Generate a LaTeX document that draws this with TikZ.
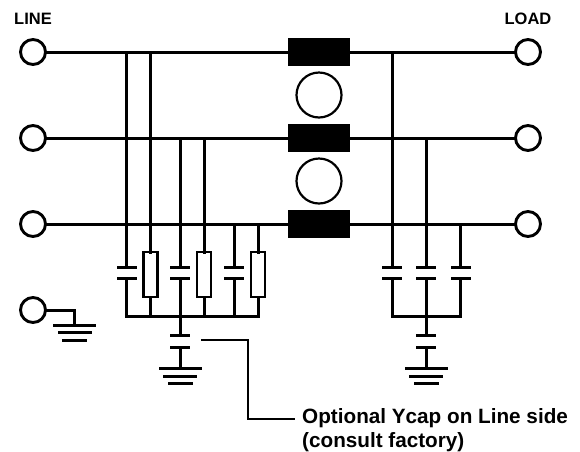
\documentclass[tikz,border=0pt]{standalone}
\usepackage{fontspec}
\setmainfont{Liberation Sans}
\usepackage{tikz}
\tikzstyle{terminal} = [circle, minimum size=25pt, inner sep=0pt, outer sep=0pt, draw=black, line width=2.9pt, fill=white]
\tikzstyle{choke} = [rectangle, minimum width=62pt, minimum height=28pt, inner sep=0pt, outer sep=0pt, fill=black]
\tikzstyle{core} = [circle, minimum size=45pt, inner sep=0pt, outer sep=0pt, draw=black, line width=2.2pt]
\tikzstyle{resistor} = [rectangle, minimum width=14pt, minimum height=45pt, inner sep=0pt, outer sep=0pt, draw=black, line width=2.6pt, fill=white]
\tikzstyle{plate} = [rectangle, minimum width=20pt, minimum height=3pt, inner sep=0pt, outer sep=0pt, fill=black]
\tikzstyle{gndA} = [rectangle, minimum width=43pt, minimum height=3pt, inner sep=0pt, outer sep=0pt, fill=black]
\tikzstyle{gndB} = [rectangle, minimum width=34pt, minimum height=3pt, inner sep=0pt, outer sep=0pt, fill=black]
\tikzstyle{gndC} = [rectangle, minimum width=25pt, minimum height=3pt, inner sep=0pt, outer sep=0pt, fill=black]
\tikzstyle{wire} = [line width=3pt, line cap=rect]
\tikzstyle{leader} = [line width=1.8pt]
\tikzstyle{title} = [font=\bfseries\fontsize{16.5}{18}\selectfont, inner sep=0pt]
\tikzstyle{note} = [font=\bfseries\fontsize{20.7}{24.5}\selectfont, inner sep=0pt, align=left, anchor=north west]

\begin{document}
\begin{tikzpicture}[x=1pt, y=-1pt]
    \useasboundingbox (0,0) rectangle (580,451);
    % terminals and chokes
    \node (lineLabel) [title] at (33,19) {LINE};
    \node (loadLabel) [title] at (528,19) {LOAD};
    \node (ind1) [choke] at (319,52) {};
    \node (ind2) [choke] at (319,138) {};
    \node (ind3) [choke] at (319,224) {};
    \node (core1) [core] at (319,95) {};
    \node (core2) [core] at (319,181) {};
    % junctions on the three phases
    \coordinate (j1) at (126.7,52);
    \coordinate (j2) at (150.7,52);
    \coordinate (j3) at (180.3,138);
    \coordinate (j4) at (204,138);
    \coordinate (j5) at (234.3,224);
    \coordinate (j6) at (258,224);
    \coordinate (k1) at (392,52);
    \coordinate (k2) at (426,138);
    \coordinate (k3) at (460.7,224);
    % bus bars
    \coordinate (b1) at (126.7,316);
    \coordinate (b2) at (150.7,316);
    \coordinate (b3) at (180.3,316);
    \coordinate (b4) at (204,316);
    \coordinate (b5) at (234.3,316);
    \coordinate (b6) at (258,316);
    \coordinate (d1) at (392,316);
    \coordinate (d2) at (426,316);
    \coordinate (d3) at (460.7,316);
    % line side branches
    \node (c1a) [plate] at (126.7,267.5) {};
    \node (c1b) [plate] at (126.7,278.5) {};
    \node (c3a) [plate] at (180.3,267.5) {};
    \node (c3b) [plate] at (180.3,278.5) {};
    \node (c5a) [plate] at (234.3,267.5) {};
    \node (c5b) [plate] at (234.3,278.5) {};
    \node (r2) [resistor] at (150.7,274.5) {};
    \node (r4) [resistor] at (204,274.5) {};
    \node (r6) [resistor] at (258,274.5) {};
    % load side branches
    \node (e1a) [plate] at (392,267.5) {};
    \node (e1b) [plate] at (392,278.5) {};
    \node (e2a) [plate] at (426,267.5) {};
    \node (e2b) [plate] at (426,278.5) {};
    \node (e3a) [plate] at (460.7,267.5) {};
    \node (e3b) [plate] at (460.7,278.5) {};
    % ycaps and grounds
    \node (yL1) [plate] at (180.3,335.7) {};
    \node (yL2) [plate] at (180.3,347.3) {};
    \node (gL1) [gndA] at (180.3,368.7) {};
    \node (gL2) [gndB] at (180.3,376) {};
    \node (gL3) [gndC] at (180.3,383.5) {};
    \node (yR1) [plate] at (426,335.7) {};
    \node (yR2) [plate] at (426,347.3) {};
    \node (gR1) [gndA] at (426,368.7) {};
    \node (gR2) [gndB] at (426,376) {};
    \node (gR3) [gndC] at (426,383.5) {};
    \node (gE1) [gndA] at (74.5,325) {};
    \node (gE2) [gndB] at (74.5,332.7) {};
    \node (gE3) [gndC] at (74.5,340) {};
    \coordinate (gEtop) at (74.5,310);
    % phases
    \draw [wire] (33,52) -- (ind1);
    \draw [wire] (33,138) -- (ind2);
    \draw [wire] (33,224) -- (ind3);
    \draw [wire] (ind1) -- (528,52);
    \draw [wire] (ind2) -- (528,138);
    \draw [wire] (ind3) -- (528,224);
    % vertical drops
    \draw [wire] (j1) -- (c1a);
    \draw [wire] (c1b) -- (b1);
    \draw [wire] (j2) -- (r2);
    \draw [wire] (r2) -- (b2);
    \draw [wire] (j3) -- (c3a);
    \draw [wire] (c3b) -- (b3);
    \draw [wire] (j4) -- (r4);
    \draw [wire] (r4) -- (b4);
    \draw [wire] (j5) -- (c5a);
    \draw [wire] (c5b) -- (b5);
    \draw [wire] (j6) -- (r6);
    \draw [wire] (r6) -- (b6);
    \draw [wire] (k1) -- (e1a);
    \draw [wire] (e1b) -- (d1);
    \draw [wire] (k2) -- (e2a);
    \draw [wire] (e2b) -- (d2);
    \draw [wire] (k3) -- (e3a);
    \draw [wire] (e3b) -- (d3);
    \draw [wire] (b1) -- (b6);
    \draw [wire] (d1) -- (d3);
    \draw [wire] (b3) -- (yL1);
    \draw [wire] (yL2) -- (gL1);
    \draw [wire] (d2) -- (yR1);
    \draw [wire] (yR2) -- (gR1);
    % terminals sit on top of the wires
    \node (line1) [terminal] at (33,52) {};
    \node (line2) [terminal] at (33,138) {};
    \node (line3) [terminal] at (33,224) {};
    \node (earth) [terminal] at (33,310) {};
    \node (load1) [terminal] at (528,52) {};
    \node (load2) [terminal] at (528,138) {};
    \node (load3) [terminal] at (528,224) {};
    \draw [wire] (earth) -- (gEtop) -- (gE1);
    % note
    \node (note) [note] at (302,408) {Optional Ycap on Line side\\(consult factory)};
    \coordinate (ycapEnd) at (201,340.3);
    \coordinate (noteEnd) at (295,418.7);
    \draw [leader] (ycapEnd) -| (248,418.7) -- (noteEnd);
\end{tikzpicture}
\end{document}
